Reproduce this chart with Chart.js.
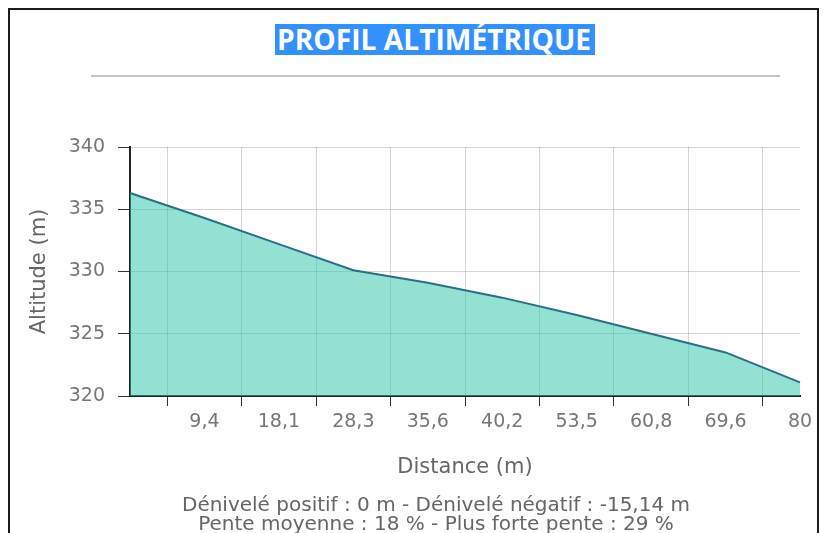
<!DOCTYPE html>
<html>
<head>
<meta charset="utf-8">
<script src="https://cdn.jsdelivr.net/npm/chart.js@4"></script>
<style>
  html, body { margin: 0; padding: 0; background: #fff; overflow: hidden; width: 827px; height: 533px; }
  #frame { position: absolute; left: 8px; top: 8px; width: 807px; height: 600px; border: 2px solid #1c1c1c; }
  #title { position: absolute; left: 275px; top: 24px; width: 320px; height: 31px; background: #3391ff; color: #fff;
           font: bold 28px "Open Sans", sans-serif; line-height: 31px; white-space: nowrap; overflow: hidden; }
  #title span { display: inline-block; transform-origin: 0 50%; padding-left: 2px; }
  #rule { position: absolute; left: 91px; top: 75px; width: 689px; height: 0; border-top: 2px solid #c4c4c4; }
  #myChart { position: absolute; left: 0; top: 0; }
  #footer { position: absolute; left: 106px; width: 660px; top: 495px; text-align: center; color: #666;
            font: 20px "DejaVu Sans", sans-serif; line-height: 19px; }
</style>
</head>
<body>
<div id="frame"></div>
<div id="title"><span>PROFIL ALTIMÉTRIQUE</span></div>
<div id="rule"></div>
<canvas id="myChart" width="827" height="500"></canvas>
<div id="footer">Dénivelé positif : 0 m - Dénivelé négatif : -15,14 m<br>Pente moyenne : 18 % - Plus forte pente : 29 %</div>
<script>
// distances along the profile (m) and altitudes (m)
const distances = [0, 9.4, 18.1, 28.3, 35.6, 40.2, 53.5, 60.8, 69.6, 80];
const altitudes = [336.3, 334.3, 332.2, 330.1, 329.1, 327.9, 326.5, 325.0, 323.5, 321.1];
const yMin = 320;
const yMax = 340;
const yStep = 5;

const xLabels = distances.map((d, i) => i === 0 ? '' : String(d).replace('.', ','));

// squeeze the title text into its highlight box
const titleSpan = document.querySelector('#title span');
const tw = titleSpan.getBoundingClientRect().width;
titleSpan.style.transform = 'scaleX(' + (316 / tw) + ')';

const ctx = document.getElementById('myChart');
const tickFont = { family: 'DejaVu Sans', size: 19 };
const titleFont = { family: 'DejaVu Sans', size: 21 };
const gridColor = 'rgba(0,0,0,0.16)';

new Chart(ctx, {
    type: 'line',
    data: {
        labels: xLabels,
        datasets: [{
            label: 'Altitude',
            data: altitudes,
            fill: 'start',
            backgroundColor: 'rgba(40,196,168,0.5)',
            borderColor: '#2a6f8a',
            borderWidth: 2,
            pointRadius: 0,
            tension: 0
        }]
    },
    options: {
        responsive: false,
        animation: false,
        layout: { padding: { top: 147, left: 23, right: 27, bottom: 20 } },
        plugins: {
            legend: { display: false },
            tooltip: { enabled: false }
        },
        scales: {
            x: {
                type: 'category',
                offset: false,
                z: 1,
                grid: { offset: true, color: gridColor, tickColor: '#333', tickLength: 10 },
                border: { color: '#222', width: 2 },
                ticks: { color: '#777', font: tickFont, padding: 5, maxRotation: 0, autoSkip: false },
                title: { display: true, text: 'Distance (m)', color: '#666', font: titleFont, padding: 0 },
                afterFit: s => { s.height = 84; }
            },
            y: {
                min: yMin,
                max: yMax,
                z: 1,
                grid: { color: gridColor, tickColor: '#333', tickLength: 12 },
                border: { color: '#222', width: 2 },
                ticks: { stepSize: yStep, color: '#777', font: tickFont, padding: 13 },
                title: { display: true, text: 'Altitude (m)', color: '#666', font: titleFont, padding: 4 },
                afterFit: s => { s.width = 107; }
            }
        }
    }
});
</script>
</body>
</html>
